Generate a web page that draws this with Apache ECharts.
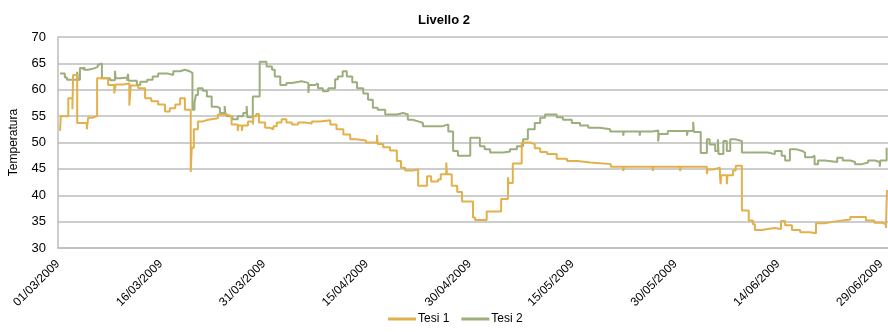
<!DOCTYPE html>
<html>
<head>
<meta charset="utf-8">
<script src="https://cdn.jsdelivr.net/npm/echarts@6/dist/echarts.min.js"></script>
<style>
html,body{margin:0;padding:0;background:#fff;}
#chart{width:888px;height:332px;}
</style>
</head>
<body>
<div id="chart"></div>
<script>
// x values are days since 01/03/2009
var tickLabels = ['01/03/2009','16/03/2009','31/03/2009','15/04/2009','30/04/2009','15/05/2009','30/05/2009','14/06/2009','29/06/2009'];

var tesi1Days = [0.3,0.4,1.5,2.1,2.2,2.8,4.2,4.4,5.0,5.7,7.3,8.2,8.4,9.5,10.4,10.6,11.7,12.7,13.6,14.6,15.6,16.3,17.1,17.8,18.5,19.35,19.5,19.8,20.4,21.1,21.9,23.3,24.6,25.3,26.2,26.3,26.8,26.9,27.7,28.4,28.5,28.9,29.3,30.2,30.9,31.4,31.9,32.6,33.3,34.1,35.0,36.0,37.0,38.2,39.7,40.6,41.6,42.6,43.5,44.9,46.5,46.6,47.4,48.4,49.4,50.0,50.6,51.7,52.5,53.8,54.4,55.4,55.8,56.6,56.7,57.4,58.2,58.9,60.5,60.8,62.5,64.6,65.6,65.7,66.3,67.6,68.8,69.5,70.3,71.3,72.7,74.2,75.7,77.6,80.6,82.4,82.5,86.7,86.8,90.7,90.8,94.6,94.7,95.5,96.5,96.6,96.7,97.5,97.6,98.4,98.8,99.7,100.7,101.3,101.6,102.6,103.5,104.5,105.4,106.0,107.0,108.2,109.6,110.5,111.8,113.1,114.9,115.5,117.8,119.0,120.1,120.7,120.85];
var tesi1Values = [52.2,55,58.4,56.3,62.8,53.7,52.5,54.7,55,62.2,60.9,59.3,61,61.2,57,60.8,60.3,58.4,57.8,57.2,55.9,56.5,57.2,58.4,56.2,44.4,49,52.5,54,54.3,54.6,55.3,55,53.4,52.2,53.2,52.2,53.2,54,53.4,55,55.4,53.8,52.8,52.5,53.1,53.8,54.4,53.8,53.4,53.8,53.6,54.0,54.2,53.4,52.5,51.5,50.6,50.4,50.0,51.4,49.7,49.1,48.5,46.5,45.2,44.7,44.9,41.8,43.6,42.6,43,44,46.2,44,41.8,40.6,38.8,35.8,35.3,36.9,39.3,43.4,42.3,46,50,49.7,48.9,48.2,47.8,46.9,46.5,46.2,45.9,45.4,44.6,45.4,44.6,45.4,44.6,45.4,44,44.9,45.2,43.8,42.1,43.8,42.1,43.8,44.7,45.6,37.1,35.2,34.5,33.4,33.6,33.8,33.6,35.1,34.3,33.4,33.0,32.8,34.7,35,35.3,35.4,35.9,35.2,34.8,34.5,33.8,41];

var tesi2Days = [0.3,1.0,1.3,2.8,2.9,3.2,3.5,3.8,3.9,4.4,5.4,5.8,6.1,6.4,7.6,8.3,8.4,9.0,10.1,10.2,10.3,11.5,12.0,13.0,13.8,14.6,15.9,16.8,17.8,18.5,19.2,19.6,19.9,20.1,20.4,21.1,21.7,22.4,23.2,23.6,24.3,24.4,24.6,25.4,26.2,27.0,27.5,27.6,28.4,29.4,30.4,31.2,31.6,32.4,33.3,34.1,35.5,36.5,36.6,37.5,37.9,38.6,39.4,40.4,40.8,41.5,42.1,42.9,43.6,44.5,45.2,45.9,46.6,47.7,49.4,50.3,51.0,51.7,52.5,53.2,56.1,56.9,57.6,58.3,60.1,61.5,62.2,63.0,64.9,65.9,66.9,67.8,68.5,69.5,70.3,71.0,72.7,73.6,74.9,76.1,77.3,79.0,80.5,82.4,82.5,84.8,84.9,86.7,87.5,87.6,88.9,91.7,91.8,92.6,92.7,93.7,94.6,95.0,95.8,96.2,96.3,97.0,97.5,98.0,98.7,99.7,103.5,104.5,105.5,106.0,106.7,107.7,108.5,108.9,109.9,110.3,110.8,111.8,113.6,114.4,115.5,116.2,117.2,118.1,119.1,119.8,119.9,120.8];
var tesi2Values = [63.1,62.3,61.9,63.4,61.9,64.1,63.8,64.3,63.8,64.1,64.4,64.8,65,62.2,61.8,63.6,62.2,62.3,61.7,63,61.7,60.9,61.5,61.9,62.5,63.1,62.8,63.5,63.8,63.5,63.2,56.2,57.5,59,60.3,59.8,58.7,56.8,56.5,55.6,56.9,55.6,55,54.4,55,55.6,56.9,54.8,58.7,65.3,64.4,63.8,62.5,60.9,61.3,61.6,61.3,59.4,60.9,61.2,60.3,59.7,60.3,62,62.5,63.5,62.5,61.4,60.3,59.3,58.1,56.6,56.2,55.3,55.6,55.3,54.3,54,53.7,53.1,53.4,52.1,48.4,47.5,50.9,49.3,48.7,48.1,48.3,48.7,49.3,50.6,52.5,53.7,54.7,55.3,54.8,54.3,53.7,53.2,52.8,52.5,52.1,51.3,52.1,51.3,52.1,52.3,50.2,51.6,52.2,51.3,52.2,53.9,52,48,50.6,49.6,48.4,50.6,47.8,50.3,48.4,50.6,50.3,48.1,47.8,48.4,47.5,46.6,48.7,48.4,48.1,47.2,47.5,45.9,46.6,46.3,47.1,46.6,46.3,45.9,46.2,46.6,46.3,45.4,46.6,49];

function pairs(days, vals){ return days.map(function(d,i){ return [d, vals[i]]; }); }

var FONT = '"Liberation Sans", Arial, sans-serif';
var chart = echarts.init(document.getElementById('chart'), null, {renderer:'canvas'});
chart.setOption({
  animation: false,
  backgroundColor: '#fff',
  title: {
    text: 'Livello 2', left: 'center', top: 9,
    textStyle: {fontFamily: FONT, fontSize: 13, fontWeight: 'bold', color: '#000'}
  },
  legend: {
    bottom: 2, left: 383, itemGap: 12, itemWidth: 28, itemHeight: 3,
    icon: 'rect',
    textStyle: {fontFamily: FONT, fontSize: 12, color: '#000', padding:[0,0,0,-3]},
    data: ['Tesi 1','Tesi 2']
  },
  grid: {left: 58, right: 0, top: 37, bottom: 84, containLabel: false},
  xAxis: {
    type: 'value', min: 0, max: 121, interval: 15,
    axisLine: {show: true, lineStyle: {color: '#bdbdbd', width: 1.5}},
    axisTick: {show: false},
    splitLine: {show: false},
    axisLabel: {
      rotate: 45, margin: 14, fontFamily: FONT, fontSize: 12, color: '#000',
      showMaxLabel: false,
      formatter: function(v){ var i = Math.round(v/15); return (v % 15 === 0 && tickLabels[i]) ? tickLabels[i] : ''; }
    }
  },
  yAxis: {
    type: 'value', min: 30, max: 70, interval: 5,
    name: 'Temperatura', nameLocation: 'middle', nameGap: 38, nameRotate: 90,
    nameTextStyle: {fontFamily: FONT, fontSize: 12, color: '#000'},
    axisLine: {show: true, lineStyle: {color: '#bdbdbd', width: 1.5}},
    axisTick: {show: false},
    splitLine: {show: true, lineStyle: {color: '#bdbdbd', width: 1.5}},
    axisLabel: {fontFamily: FONT, fontSize: 13, color: '#000', margin: 12}
  },
  series: [
    {name: 'Tesi 1', type: 'line', step: 'end', showSymbol: false, symbol: 'none',
     data: pairs(tesi1Days, tesi1Values), color: '#E2B14B',
     lineStyle: {width: 2, color: '#E2B14B'}, z: 3},
    {name: 'Tesi 2', type: 'line', step: 'end', showSymbol: false, symbol: 'none',
     data: pairs(tesi2Days, tesi2Values), color: '#9BAE7C',
     lineStyle: {width: 2, color: '#9BAE7C'}, z: 2}
  ]
});
</script>
</body>
</html>
